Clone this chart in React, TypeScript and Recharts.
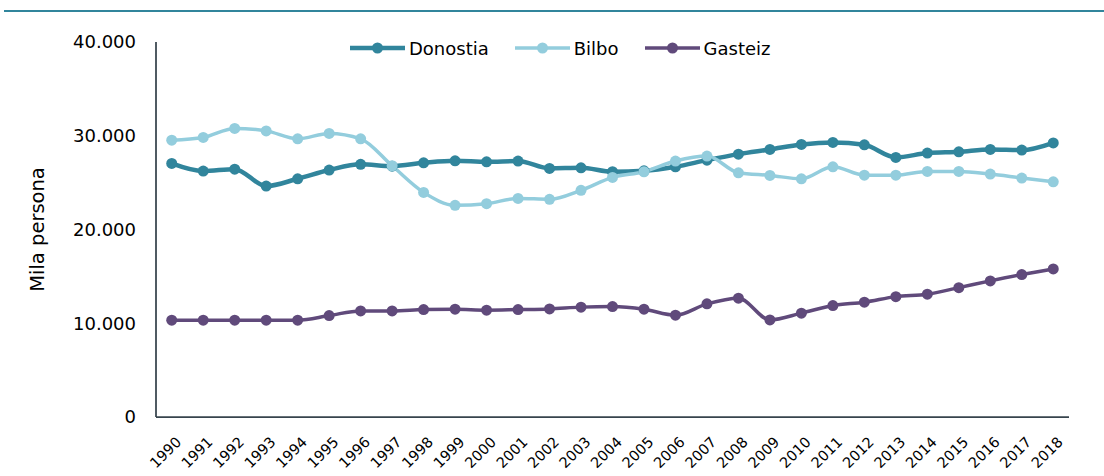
import React from "react";
import { LineChart, Line, XAxis, YAxis, Legend } from "recharts";

const years: string[] = [
  "1990","1991","1992","1993","1994","1995","1996","1997","1998","1999",
  "2000","2001","2002","2003","2004","2005","2006","2007","2008","2009",
  "2010","2011","2012","2013","2014","2015","2016","2017","2018",
];

const donostia: number[] = [
  27050, 26230, 26440, 24630, 25410, 26340, 26950, 26760, 27110, 27330,
  27220, 27300, 26520, 26580, 26160, 26260, 26690, 27400, 28040, 28540,
  29070, 29290, 29030, 27690, 28150, 28290, 28540, 28470, 29240,
];

const bilbo: number[] = [
  29530, 29820, 30780, 30520, 29670, 30250, 29670, 26800, 23960, 22580,
  22750, 23320, 23220, 24180, 25560, 26160, 27300, 27830, 26050, 25770,
  25410, 26690, 25800, 25800, 26200, 26200, 25910, 25490, 25090,
];

const gasteiz: number[] = [
  10330, 10330, 10330, 10330, 10330, 10820, 11320, 11320, 11460, 11500,
  11400, 11460, 11530, 11720, 11780, 11500, 10860, 12070, 12670, 10360,
  11080, 11890, 12250, 12840, 13100, 13800, 14520, 15190, 15790,
];

const yTicks: number[] = [0, 10000, 20000, 30000, 40000];

const seriesNames = ["Donostia", "Bilbo", "Gasteiz"];
const seriesColors = ["#31859c", "#93cddd", "#604a7b"];
const seriesWidths = [4.5, 3.5, 3.5];

const data = years.map((y, i) => ({
  year: y,
  Donostia: donostia[i],
  Bilbo: bilbo[i],
  Gasteiz: gasteiz[i],
}));

const fmt = (v: number) =>
  v === 0 ? "0" : v.toLocaleString("de-DE").replace(/,/g, ".");

const FONT = "'DejaVu Sans', sans-serif";

const XTick = (props: any) => {
  const { x, y, payload } = props;
  return (
    <g transform={`translate(${x + 3},${y + 18.5})`}>
      <text
        x={0}
        y={10.5}
        textAnchor="end"
        transform="rotate(-45)"
        fontSize={14.5}
        fontFamily={FONT}
        fill="#000"
      >
        {payload.value}
      </text>
    </g>
  );
};

const LegendContent = () => (
  <div style={{ display: "flex", alignItems: "center", height: 22, fontFamily: FONT, fontSize: 18, color: "#000" }}>
    {seriesNames.map((n, i) => (
      <div key={n} style={{ display: "flex", alignItems: "center", marginRight: 26 }}>
        <svg width={55} height={14} style={{ display: "block" }}>
          <line x1={0} y1={7} x2={55} y2={7} stroke={seriesColors[i]} strokeWidth={seriesWidths[i]} />
          <circle cx={27.5} cy={7} r={5.5} fill={seriesColors[i]} />
        </svg>
        <span style={{ marginLeft: 4, whiteSpace: "nowrap" }}>{n}</span>
      </div>
    ))}
  </div>
);

export default function App() {
  return (
    <div style={{ position: "absolute", left: 0, top: 0, width: 1104, height: 476, background: "#fff", fontFamily: FONT }}>
      <div style={{ position: "absolute", left: 4, top: 10, width: 1100, height: 2, background: "#31859c" }} />
      <LineChart
        width={1104}
        height={476}
        data={data}
        margin={{ top: 42, right: 35, bottom: 0, left: 0 }}
      >
        <XAxis
          dataKey="year"
          height={59}
          tickSize={0}
          tickMargin={0}
          interval={0}
          padding={{ left: 15.74, right: 15.74 }}
          axisLine={{ stroke: "#37444d", strokeWidth: 1.75 }}
          tickLine={false}
          tick={<XTick />}
        />
        <YAxis
          width={156}
          domain={[0, 40000]}
          ticks={yTicks}
          interval={0}
          tickFormatter={fmt}
          tickSize={0}
          tickMargin={20}
          tickLine={false}
          axisLine={{ stroke: "#37444d", strokeWidth: 1.75 }}
          tick={{ fontSize: 18, fill: "#000", fontFamily: FONT }}
          label={{
            value: "Mila persona",
            angle: -90,
            position: "insideLeft",
            offset: 37,
            style: { textAnchor: "middle", fontSize: 19.5, fill: "#000", fontFamily: FONT },
          }}
        />
        <Legend
          verticalAlign="middle"
          align="center"
          layout="horizontal"
          wrapperStyle={{ position: "absolute", top: 37, left: 350, width: 460 }}
          content={<LegendContent />}
        />
        {seriesNames.map((n, i) => (
          <Line
            key={n}
            type="monotone"
            dataKey={n}
            stroke={seriesColors[i]}
            strokeWidth={seriesWidths[i]}
            dot={{ r: 5.5, fill: seriesColors[i], stroke: seriesColors[i], strokeWidth: 0 }}
            activeDot={false}
            isAnimationActive={false}
          />
        ))}
      </LineChart>
    </div>
  );
}
